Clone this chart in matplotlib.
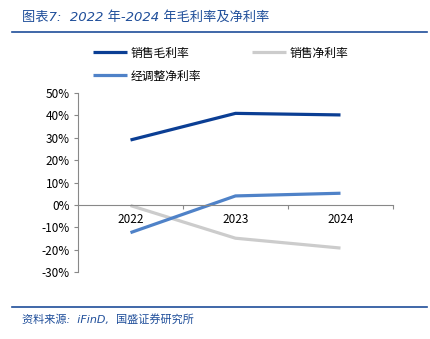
import matplotlib
matplotlib.use('Agg')
import matplotlib.pyplot as plt
from matplotlib.ticker import FuncFormatter

plt.rcParams['font.family'] = ['Noto Sans CJK SC', 'DejaVu Sans']

# data
years = ['2022', '2023', '2024']
gross_margin = [29.0, 40.9, 40.2]
net_margin = [-0.3, -14.9, -19.3]
adj_net_margin = [-12.4, 4.0, 5.2]

W, H = 431, 339
fig = plt.figure(figsize=(W / 100, H / 100), dpi=100)

# title block (latin glyphs in oblique, chinese falls back to CJK)
title_color = '#1F4E9A'
fig.text(22 / W, 1 - 17 / H, '图表7:  2022 年-2024 年毛利率及净利率',
         color=title_color, fontsize=9.5, style='italic', va='center',
         family=['DejaVu Sans', 'Noto Sans CJK SC'])
fig.add_artist(plt.Line2D([12 / W, 427 / W], [1 - 32 / H, 1 - 32 / H],
                          color=title_color, lw=1.2))
fig.add_artist(plt.Line2D([12 / W, 427 / W], [1 - 307 / H, 1 - 307 / H],
                          color=title_color, lw=1.2))
fig.text(22 / W, 1 - 319 / H, '资料来源:  iFinD,  国盛证券研究所',
         color=title_color, fontsize=8, style='italic', va='center',
         family=['DejaVu Sans', 'Noto Sans CJK SC'])

ax = fig.add_axes([78 / W, 1 - 272 / H, (393 - 78) / W, (272 - 93) / H])
x = list(range(len(years)))
ax.plot(x, gross_margin, color='#0B3E94', lw=2.3, label='销售毛利率', solid_capstyle='butt')
ax.plot(x, net_margin, color='#CCCCCC', lw=2.3, label='销售净利率', solid_capstyle='butt')
ax.plot(x, adj_net_margin, color='#4F82C8', lw=2.3, label='经调整净利率', solid_capstyle='butt')

ax.set_xlim(-0.5, 2.5)
ax.set_ylim(-30, 50)
ax.set_yticks(range(-30, 51, 10))
ax.yaxis.set_major_formatter(FuncFormatter(lambda v, p: f'{v:.0f}%'))
ax.tick_params(axis='y', length=3, color='#888888', labelsize=8.5, pad=3, width=0.8)

ax.set_xticks([0.5, 1.5, 2.5])
ax.set_xticklabels([])
ax.set_xticks(x, minor=True)
ax.set_xticklabels(years, minor=True)
ax.tick_params(axis='x', which='major', length=3, color='#888888', width=0.8)
ax.tick_params(axis='x', which='minor', length=0, labelsize=8.5, pad=6)

for s in ['top', 'right']:
    ax.spines[s].set_visible(False)
ax.spines['left'].set_color('#888888')
ax.spines['left'].set_linewidth(0.8)
ax.spines['bottom'].set_position(('data', 0))
ax.spines['bottom'].set_color('#888888')
ax.spines['bottom'].set_linewidth(0.8)

handles, labels = ax.get_legend_handles_labels()
fig.legend(handles[:2], labels[:2], loc='center left', bbox_to_anchor=(93 / W, 1 - 53 / H),
           ncol=2, frameon=False, fontsize=8.5, handlelength=2.9, columnspacing=5.3,
           handletextpad=0.3, borderaxespad=0, borderpad=0)
fig.legend(handles[2:], labels[2:], loc='center left', bbox_to_anchor=(93 / W, 1 - 76 / H),
           frameon=False, fontsize=8.5, handlelength=2.9, handletextpad=0.3,
           borderaxespad=0, borderpad=0)

fig.savefig('out.png', dpi=100)
